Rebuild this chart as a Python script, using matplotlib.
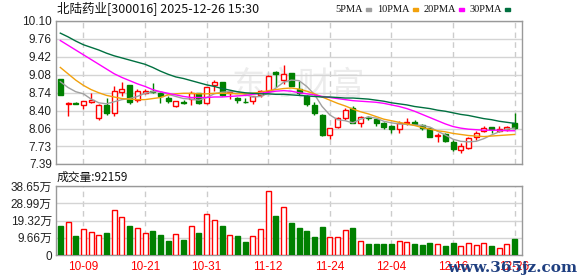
import numpy as np
import matplotlib
matplotlib.use("Agg")
import matplotlib.pyplot as plt
from matplotlib.patches import Rectangle

# trading days shown on the chart
dates = [
    "09-26", "09-29", "09-30", "10-09", "10-10", "10-13", "10-14", "10-15", "10-16", "10-17",
    "10-20", "10-21", "10-22", "10-23", "10-24", "10-27", "10-28", "10-29", "10-30", "10-31",
    "11-03", "11-04", "11-05", "11-06", "11-07", "11-10", "11-11", "11-12", "11-13", "11-14",
    "11-17", "11-18", "11-19", "11-20", "11-21", "11-24", "11-25", "11-26", "11-27", "11-28",
    "12-01", "12-02", "12-03", "12-04", "12-05", "12-08", "12-09", "12-10", "12-11", "12-12",
    "12-15", "12-16", "12-17", "12-18", "12-19", "12-22", "12-23", "12-24", "12-25", "12-26",
]
tick_dates = ["10-09", "10-21", "10-31", "11-12", "11-24", "12-04", "12-16", "12-26"]

opens = [9.00, 8.52, 8.55, 8.51, 8.57, 8.26, 8.51, 8.36, 8.76, 8.89,
         8.60, 8.73, 8.77, 8.74, 8.65, 8.48, 8.56, 8.63, 8.73, 8.55,
         8.89, 8.94, 8.73, 8.65, 8.57, 8.58, 8.70, 8.77, 9.14, 8.98,
         9.11, 8.81, 8.68, 8.51, 8.32, 7.94, 8.10, 8.26, 8.45, 8.16,
         8.29, 8.24, 8.17, 8.11, 8.05, 8.16, 8.19, 8.13, 8.07, 7.92,
         7.96, 7.81, 7.66, 7.70, 7.90, 8.02, 8.09, 8.02, 8.05, 8.16]
highs = [9.01, 8.56, 8.57, 8.58, 8.74, 8.52, 8.64, 8.87, 8.95, 8.89,
         8.81, 8.81, 8.93, 8.75, 8.68, 8.59, 8.60, 8.77, 8.74, 8.85,
         8.98, 8.95, 8.76, 8.66, 8.65, 8.68, 8.80, 9.07, 9.15, 9.27,
         9.12, 8.97, 8.69, 8.57, 8.33, 8.08, 8.29, 8.46, 8.48, 8.30,
         8.30, 8.25, 8.18, 8.12, 8.20, 8.26, 8.22, 8.14, 8.08, 7.97,
         7.97, 7.85, 7.78, 7.90, 8.02, 8.11, 8.10, 8.11, 8.11, 8.36]
lows = [8.70, 8.30, 8.52, 8.44, 8.55, 8.22, 8.32, 8.30, 8.68, 8.53,
        8.57, 8.71, 8.73, 8.54, 8.55, 8.47, 8.52, 8.51, 8.53, 8.53,
        8.78, 8.67, 8.62, 8.55, 8.55, 8.53, 8.66, 8.75, 8.84, 8.91,
        8.86, 8.70, 8.48, 8.32, 7.92, 7.86, 8.07, 8.22, 8.16, 8.10,
        8.22, 8.11, 8.05, 7.97, 7.97, 8.13, 8.12, 8.03, 7.90, 7.81,
        7.81, 7.64, 7.60, 7.68, 7.84, 8.00, 7.97, 8.00, 8.02, 8.06]
closes = [8.70, 8.55, 8.52, 8.58, 8.60, 8.51, 8.36, 8.77, 8.81, 8.57,
          8.77, 8.77, 8.75, 8.67, 8.59, 8.58, 8.55, 8.73, 8.55, 8.84,
          8.94, 8.69, 8.75, 8.60, 8.56, 8.67, 8.78, 9.06, 9.10, 9.09,
          8.87, 8.73, 8.52, 8.35, 7.94, 8.07, 8.26, 8.41, 8.17, 8.28,
          8.27, 8.16, 8.10, 8.06, 8.17, 8.18, 8.14, 8.07, 7.91, 7.94,
          7.83, 7.67, 7.73, 7.88, 7.98, 8.07, 8.05, 8.05, 8.09, 8.08]

# volume in 万
volumes = [16.4, 18.7, 10.7, 14.5, 12.8, 11.3, 12.4, 25.3, 21.3, 16.4,
           15.1, 12.3, 13.6, 11.3, 7.9, 11.7, 8.5, 16.4, 12.4, 23.2,
           19.6, 16.4, 11.3, 10.7, 7.4, 10.6, 14.5, 36.0, 22.1, 27.0,
           18.2, 15.3, 13.6, 10.2, 15.8, 10.0, 10.0, 13.9, 15.3, 7.7,
           6.2, 6.2, 6.2, 6.2, 7.7, 7.4, 6.2, 5.7, 6.8, 6.0,
           5.1, 6.8, 4.9, 6.6, 5.5, 6.6, 4.9, 4.1, 6.0, 9.2159]

ma5 = [8.95, 8.84, 8.76, 8.72, 8.62, 8.55, 8.53, 8.57, 8.61, 8.63,
       8.67, 8.73, 8.76, 8.76, 8.71, 8.67, 8.63, 8.62, 8.60, 8.65,
       8.72, 8.75, 8.76, 8.76, 8.71, 8.66, 8.67, 8.73, 8.83, 8.94,
       8.98, 8.97, 8.86, 8.71, 8.48, 8.32, 8.23, 8.21, 8.17, 8.24,
       8.28, 8.26, 8.20, 8.17, 8.15, 8.14, 8.13, 8.12, 8.09, 8.01,
       7.94, 7.86, 7.82, 7.81, 7.82, 7.87, 7.94, 8.00, 8.05, 8.07]
ma10 = [9.22, 9.10, 8.98, 8.88, 8.80, 8.74, 8.69, 8.66, 8.63, 8.62,
        8.61, 8.61, 8.63, 8.65, 8.70, 8.72, 8.73, 8.73, 8.72, 8.72,
        8.73, 8.73, 8.73, 8.72, 8.72, 8.73, 8.75, 8.78, 8.80, 8.82,
        8.83, 8.81, 8.77, 8.72, 8.66, 8.60, 8.54, 8.49, 8.43, 8.38,
        8.34, 8.29, 8.24, 8.21, 8.18, 8.15, 8.12, 8.08, 8.05, 8.02,
        8.00, 7.97, 7.95, 7.93, 7.92, 7.91, 7.92, 7.93, 7.94, 7.95]
ma20 = [9.73, 9.64, 9.55, 9.46, 9.37, 9.28, 9.19, 9.10, 9.03, 8.97,
        8.91, 8.86, 8.80, 8.76, 8.73, 8.70, 8.67, 8.65, 8.65, 8.65,
        8.66, 8.66, 8.67, 8.68, 8.69, 8.71, 8.73, 8.75, 8.77, 8.78,
        8.77, 8.74, 8.72, 8.70, 8.67, 8.65, 8.63, 8.61, 8.59, 8.58,
        8.57, 8.56, 8.54, 8.51, 8.48, 8.44, 8.39, 8.33, 8.27, 8.21,
        8.15, 8.10, 8.07, 8.05, 8.04, 8.03, 8.03, 8.03, 8.02, 8.02]
ma30 = [9.87, 9.80, 9.72, 9.65, 9.60, 9.55, 9.49, 9.44, 9.40, 9.36,
        9.32, 9.28, 9.22, 9.15, 9.09, 9.04, 9.01, 8.97, 8.93, 8.89,
        8.86, 8.82, 8.79, 8.76, 8.74, 8.73, 8.72, 8.72, 8.71, 8.71,
        8.70, 8.69, 8.68, 8.67, 8.66, 8.66, 8.65, 8.64, 8.64, 8.63,
        8.62, 8.60, 8.58, 8.55, 8.53, 8.51, 8.48, 8.46, 8.44, 8.41,
        8.39, 8.36, 8.33, 8.31, 8.28, 8.25, 8.23, 8.20, 8.18, 8.16]

price_ticks = [7.39, 7.73, 8.06, 8.40, 8.74, 9.08, 9.42, 9.76, 10.10]
vol_ticks = [0, 9.66, 19.32, 28.99, 38.65]

RED = "#ff0000"
GREEN = "#008000"
W, H = 578, 276
TICK_FONT = ["Liberation Sans", "Noto Sans CJK SC"]
CJK_FONT = ["Noto Sans CJK SC", "DejaVu Sans"]


def fx(x):
    return x / W


def fy(y):
    return 1 - y / H


def style_axes(ax):
    for s in ax.spines.values():
        s.set_color("#999999")
        s.set_linewidth(1)
    ax.tick_params(length=0, pad=3, labelsize=8.5, colors="#222222")
    ax.grid(axis="y", color="#d4d4d4", lw=1)
    ax.grid(axis="x", color="#cccccc", lw=1, linestyle=(0, (4, 3)))
    ax.set_axisbelow(True)
    ax.set_xlim(-0.56, 59.96)


def main():
    x = np.arange(len(dates))
    o = np.array(opens)
    c = np.array(closes)
    up = c >= o
    tick_pos = [dates.index(d) for d in tick_dates]

    fig = plt.figure(figsize=(W / 100, H / 100), dpi=100)
    ax = fig.add_axes([fx(56), fy(164), fx(466), 143 / H])
    axv = fig.add_axes([fx(56), fy(255), fx(466), 69 / H])

    # price panel
    style_axes(ax)
    ax.set_ylim(7.39, 10.10)
    ax.set_yticks(price_ticks)
    ax.set_yticklabels([f"{v:.2f}" for v in price_ticks], family=TICK_FONT)
    ax.set_xticks(tick_pos)
    ax.set_xticklabels([])
    ax.text(0.52, 0.55, "东方财富", transform=ax.transAxes, ha="center", va="center",
            fontsize=24, color="#ececec", family=CJK_FONT, zorder=0.5)

    width = 0.65
    colors = np.where(up, RED, GREEN)
    ax.vlines(x, lows, highs, colors=colors, lw=1, zorder=2)
    body = np.maximum(np.abs(c - o), 0.008)
    ax.bar(x, body, bottom=np.minimum(o, c), width=width,
           color=np.where(up, "white", GREEN), edgecolor=colors, lw=1, zorder=3)

    ax.plot(x, ma5, color="#a0a0a0", lw=1, zorder=4)
    ax.plot(x, ma10, color="#f2a10c", lw=1, zorder=4)
    ax.plot(x, ma20, color="#ff00ff", lw=1, zorder=4)
    ax.plot(x, ma30, color="#007040", lw=1, zorder=4)

    # volume panel
    style_axes(axv)
    axv.set_ylim(0, 38.65)
    axv.set_yticks(vol_ticks)
    axv.set_yticklabels(["0"] + [f"{v:.2f}万" for v in vol_ticks[1:]], family=TICK_FONT)
    axv.set_xticks(tick_pos)
    axv.set_xticklabels(tick_dates, family=TICK_FONT, color=RED, fontsize=8.5)
    axv.tick_params(axis="x", pad=4.5)
    axv.bar(x, volumes, width=width, color=np.where(up, "white", GREEN),
            edgecolor=colors, lw=1, zorder=3)

    # titles
    fig.text(fx(57), fy(8), "北陆药业[300016] 2025-12-26 15:30", family=CJK_FONT,
             fontsize=9, va="center", ha="left", color="#111111")
    fig.text(fx(57), fy(177), "成交量:92159", family=CJK_FONT,
             fontsize=8.5, va="center", ha="left", color="#111111")

    # legend: label ends just before a small colour swatch
    legend = [("5PMA", "#a0a0a0", 364), ("10PMA", "#f2a10c", 411),
              ("20PMA", "#ff00ff", 457), ("30PMA", "#007040", 503)]
    for label, col, xend in legend:
        fig.text(fx(xend - 1), fy(9), label, family="Liberation Serif", fontsize=7.5,
                 va="center", ha="right", color="#111111")
        fig.patches.append(Rectangle((fx(xend + 2), fy(11)), fx(5), 3 / H,
                                     transform=fig.transFigure, color=col, figure=fig))

    # site watermark
    fig.text(fx(512), fy(268), "www.365jz.com", family="DejaVu Serif", fontsize=11,
             fontweight="bold", color="#1f3f80", ha="center", va="center")

    fig.savefig("out.png", dpi=100)


if __name__ == "__main__":
    main()
